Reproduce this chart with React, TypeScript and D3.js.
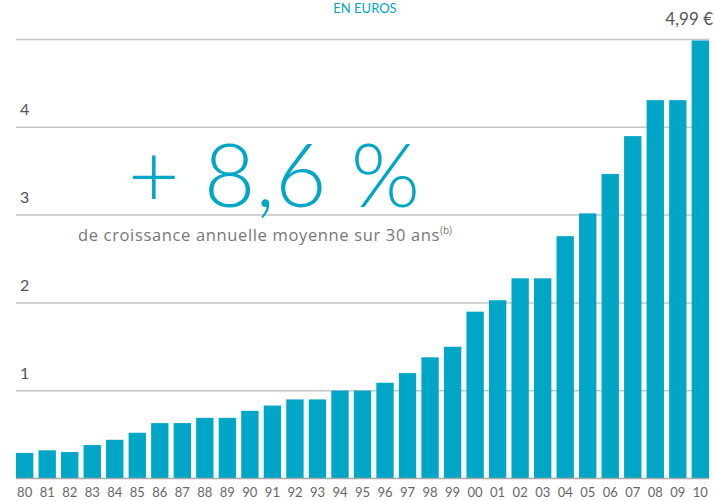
import React from "react";
import * as d3 from "d3";

// Annual values (euros)
const years = [
  "80", "81", "82", "83", "84", "85", "86", "87", "88", "89",
  "90", "91", "92", "93", "94", "95", "96", "97", "98", "99",
  "00", "01", "02", "03", "04", "05", "06", "07", "08", "09", "10",
];
const values = [
  0.29, 0.32, 0.3, 0.38, 0.44, 0.52, 0.63, 0.63, 0.69, 0.69,
  0.77, 0.83, 0.9, 0.9, 1.0, 1.0, 1.09, 1.2, 1.38, 1.5,
  1.9, 2.03, 2.28, 2.28, 2.76, 3.02, 3.47, 3.9, 4.31, 4.31, 4.99,
];
const yTicks = [1, 2, 3, 4];
const gridLines = [1, 2, 3, 4, 5];

const width = 715;
const height = 501;
const teal = "#00a6c6";
const font = "Lato, 'Open Sans', sans-serif";

export default function App() {
  const x = d3
    .scaleBand<string>()
    .domain(years)
    .range([16, 709])
    .paddingInner(0.23)
    .paddingOuter(0);

  const y = d3.scaleLinear().domain([0, 5]).range([478.4, 39.6]);

  return (
    <svg
      width={width}
      height={height}
      style={{ position: "absolute", top: 0, left: 0, background: "#fff" }}
      fontFamily={font}
    >
      {/* grid */}
      {gridLines.map((g) => (
        <line
          key={g}
          x1={16}
          x2={709}
          y1={y(g)}
          y2={y(g)}
          stroke="#c4c4c4"
          strokeWidth={1.5}
        />
      ))}
      {yTicks.map((t) => (
        <text key={t} x={20} y={y(t) - 12} fontSize={16} fill="#555">
          {t}
        </text>
      ))}

      {/* bars */}
      {values.map((v, i) => (
        <rect
          key={years[i]}
          x={x(years[i])}
          width={x.bandwidth()}
          y={y(v)}
          height={y(0) - y(v)}
          fill={teal}
        />
      ))}

      {/* baseline */}
      <line x1={16} x2={709} y1={y(0)} y2={y(0)} stroke="#a8a8a8" strokeWidth={1.5} />

      {years.map((yr) => (
        <text
          key={yr}
          x={(x(yr) as number) + x.bandwidth() / 2}
          y={497}
          textAnchor="middle"
          fontSize={13}
          fill="#666"
        >
          {yr}
        </text>
      ))}

      {/* headings */}
      <text x={365} y={13} textAnchor="middle" fontSize={13} fill={teal}>
        EN EUROS
      </text>
      <text x={713} y={25} textAnchor="end" fontSize={17} fill="#555">
        4,99 €
      </text>

      {/* callout */}
      <text x={128} y={207} fontSize={89} fontWeight={300} fill={teal}>
        + 8,6 %
      </text>
      <text
        x={78}
        y={241}
        fontSize={16.5}
        fontFamily="'Open Sans', sans-serif"
        letterSpacing={0.65}
        fill="#777"
      >
        de croissance annuelle moyenne sur 30 ans
        <tspan fontSize={10} dy={-7} letterSpacing={0}>(b)</tspan>
      </text>
    </svg>
  );
}
